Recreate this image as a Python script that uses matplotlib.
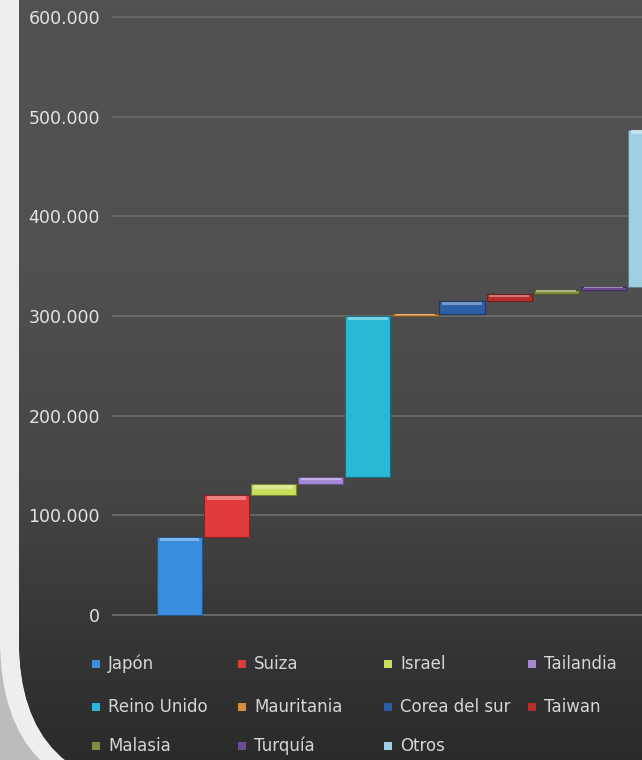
import matplotlib
matplotlib.use("Agg")
import numpy as np
import matplotlib.pyplot as plt
from matplotlib.patches import Rectangle, FancyBboxPatch
from matplotlib.colors import LinearSegmentedColormap, to_rgb

# datos
paises = ["Japón", "Suiza", "Israel", "Tailandia", "Reino Unido", "Mauritania",
          "Corea del sur", "Taiwan", "Malasia", "Turquía", "Otros"]
valores = [78000, 42000, 11000, 7000, 162000, 2000, 13000, 7000, 4000, 3000, 158000]
colores = ["#3b8de0", "#e23b3b", "#c9de5a", "#a48ad6", "#29b9d6", "#d98c3c",
           "#2e5fa6", "#b8302e", "#7f8f3e", "#6b4b95", "#9fd0e2"]
yticks = [0, 100000, 200000, 300000, 400000, 500000, 600000]

bases = np.concatenate([[0], np.cumsum(valores)[:-1]])
x = np.arange(len(paises))

fig = plt.figure(figsize=(6.42, 7.6), dpi=100)

# fondo: marco claro con esquina redondeada y panel oscuro
bg = fig.add_axes([0, 0, 1, 1])
bg.set_xlim(0, 642)
bg.set_ylim(760, 0)
bg.axis("off")
bg.add_patch(Rectangle((0, 0), 642, 760, color="#bcbcbc", zorder=0))
marco = FancyBboxPatch((0, -200), 900, 1000, boxstyle="round,pad=0,rounding_size=160",
                       fc="#eeeeee", ec="none", zorder=1)
bg.add_patch(marco)
panel = FancyBboxPatch((19, -200), 900, 990, boxstyle="round,pad=0,rounding_size=150",
                       fc="#464646", ec="none", zorder=2)
bg.add_patch(panel)
cmap = LinearSegmentedColormap.from_list(
    "fondo", [(0.0, "#525252"), (0.35, "#505050"), (0.65, "#454545"),
              (0.85, "#353535"), (1.0, "#2b2b2b")])
grad = np.linspace(0, 1, 256).reshape(-1, 1)
im = bg.imshow(grad, extent=(19, 642, 760, 0), aspect="auto", cmap=cmap, zorder=3)
im.set_clip_path(panel)
bg.set_xlim(0, 642)
bg.set_ylim(760, 0)

# grafico de cascada
ax = fig.add_axes([112 / 642, 120 / 760, 530 / 642, 640 / 760])
ax.patch.set_alpha(0)
for xi, b, v, c in zip(x, bases, valores, colores):
    r, g, bl = to_rgb(c)
    oscuro = (r * 0.6, g * 0.6, bl * 0.6)
    claro = tuple(ch + (1 - ch) * 0.35 for ch in (r, g, bl))
    ax.bar(xi, v, bottom=b, width=0.96, color=c, edgecolor=oscuro, linewidth=0.8, zorder=3)
    h = min(3500, v * 0.35)
    ax.bar(xi, h, bottom=b + v - h * 1.2, width=0.84, color=claro, linewidth=0, zorder=4)

ax.set_xlim(-1.433, 9.82)
ax.set_ylim(-25100, 617000)
ax.set_yticks(yticks)
ax.set_yticklabels([f"{v:,}".replace(",", ".") for v in yticks])
ax.yaxis.grid(True, color="#6a6a6a", linewidth=1.3, zorder=1)
ax.set_xticks([])
ax.tick_params(axis="y", length=0, pad=8.6, labelsize=12.5, labelcolor="#e4e4e4")
for s in ax.spines.values():
    s.set_visible(False)

# leyenda
col_x = [96, 242, 388, 532]
fila_y = [664, 707, 746]
for i, (n, c) in enumerate(zip(paises, colores)):
    px = col_x[i % 4]
    py = fila_y[i // 4]
    bg.scatter(px, py, marker="s", s=30, color=c, edgecolors="none", zorder=5)
    bg.text(px + 12, py, n, va="center", ha="left", fontsize=12, color="#d6d6d6", zorder=5)

fig.savefig("out.png", dpi=100)
